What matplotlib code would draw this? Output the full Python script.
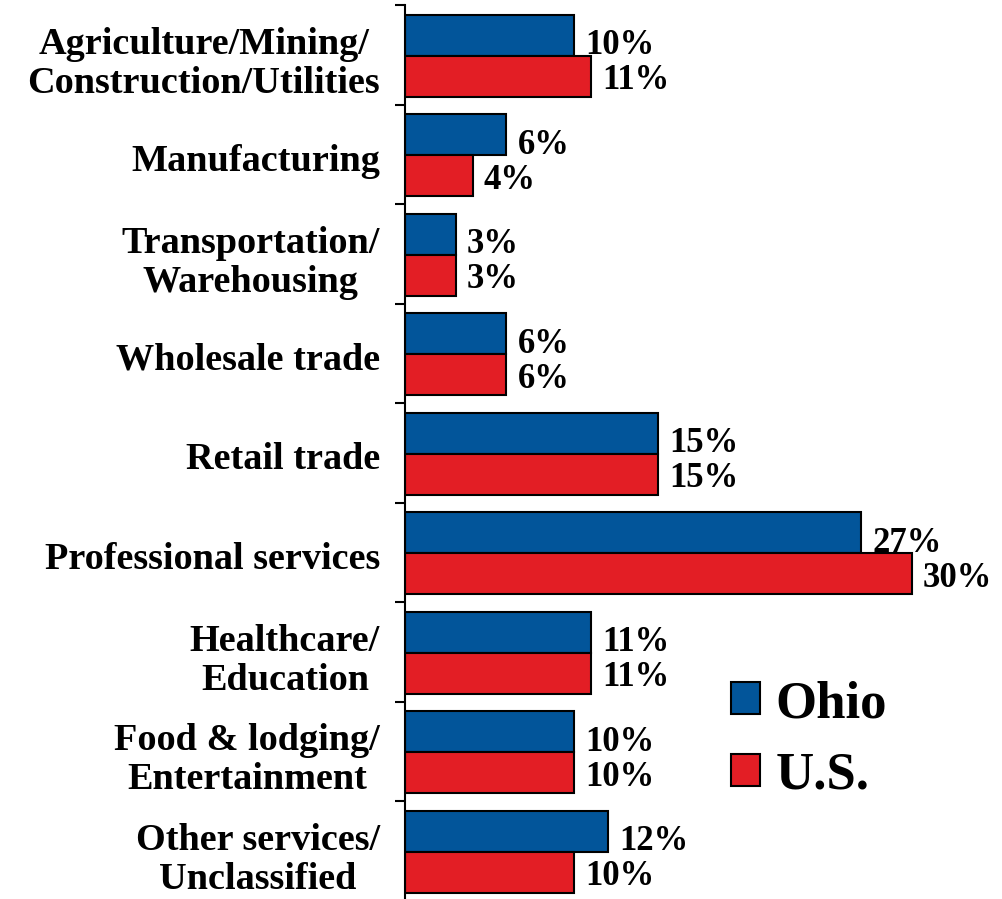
import numpy as np
import matplotlib
matplotlib.use("Agg")
import matplotlib.pyplot as plt

# ---------------------------
# Data (share of businesses, %)
# ---------------------------
categories = [
    "Agriculture/Mining/\nConstruction/Utilities",
    "Manufacturing",
    "Transportation/\nWarehousing",
    "Wholesale trade",
    "Retail trade",
    "Professional services",
    "Healthcare/\nEducation",
    "Food & lodging/\nEntertainment",
    "Other services/\nUnclassified",
]
ohio = [10, 6, 3, 6, 15, 27, 11, 10, 12]
us = [11, 4, 3, 6, 15, 30, 11, 10, 10]

ohio_color = "#02559A"
us_color = "#E31E25"

plt.rcParams["font.family"] = ["Liberation Serif", "DejaVu Serif"]
plt.rcParams["font.weight"] = "bold"

fig = plt.figure(figsize=(10.03, 8.99), dpi=100)
ax = fig.add_axes([405 / 1003, -1.5 / 899, 598 / 1003, 895.5 / 899])

y = np.arange(len(categories))
h = 0.41

ax.barh(y - 0.195, ohio, height=h, color=ohio_color, edgecolor="black",
        linewidth=1.5, label="Ohio")
ax.barh(y + 0.215, us, height=h, color=us_color, edgecolor="black",
        linewidth=1.5, label="U.S.")

# value labels
for i in range(len(categories)):
    ax.annotate(f"{ohio[i]}%", (ohio[i], y[i] - 0.09), xytext=(8, 0),
                textcoords="offset points", va="center", ha="left",
                fontsize=25, fontweight="bold")
    ax.annotate(f"{us[i]}%", (us[i], y[i] + 0.26), xytext=(8, 0),
                textcoords="offset points", va="center", ha="left",
                fontsize=25, fontweight="bold")

ax.set_xlim(0, 35.4)
ax.set_ylim(len(categories) - 0.5, -0.5)

# category labels, tick marks at category boundaries
ax.set_yticks(y + 0.03)
ax.set_yticklabels(categories, fontsize=27.5, fontweight="bold",
                   multialignment="center", linespacing=1.15)
ax.tick_params(axis="y", which="major", length=0, pad=18)
ax.set_yticks(np.arange(-0.5, len(categories) - 0.5, 1), minor=True)
ax.tick_params(axis="y", which="minor", length=7, width=1.5, direction="out")
ax.set_xticks([])

for side in ["top", "right", "bottom"]:
    ax.spines[side].set_visible(False)
ax.spines["left"].set_linewidth(1.5)

ax.legend(loc="upper left", bbox_to_anchor=(731 / 1003, 1 - 680 / 899),
          bbox_transform=fig.transFigure, frameon=False,
          prop={"family": "Liberation Serif", "weight": "bold", "size": 38},
          handlelength=0.55, handleheight=0.55, handletextpad=0.3,
          labelspacing=0.45, borderpad=0, borderaxespad=0)

fig.savefig("out.png", dpi=100)
